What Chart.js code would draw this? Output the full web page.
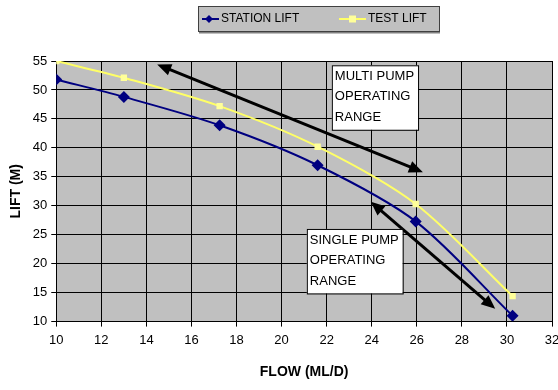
<!DOCTYPE html>
<html>
<head>
<meta charset="utf-8">
<script src="https://cdn.jsdelivr.net/npm/chart.js@4.4.1/dist/chart.umd.min.js"></script>
<style>
  html, body { margin: 0; padding: 0; background: #fff; }
</style>
</head>
<body>
<canvas id="pump_chart" width="558" height="390"></canvas>
<script>
// pump curves: flow (ML/D) vs lift (m)
const FLOW         = [10, 13, 17.25, 21.6, 25.95, 30.25];
const STATION_LIFT = [51.8, 48.8, 43.9, 37, 27.3, 11];
const TEST_LIFT    = [55, 52.1, 47.2, 40.2, 30.3, 14.4];
const SERIES_NAMES = ["STATION LIFT", "TEST LIFT"];

const X_TICKS = [10, 12, 14, 16, 18, 20, 22, 24, 26, 28, 30, 32];
const Y_TICKS = [10, 15, 20, 25, 30, 35, 40, 45, 50, 55];

// notes drawn on the plot (positions in axis units)
const NOTE_MULTI   = ["MULTI PUMP", "OPERATING", "RANGE"];
const NOTE_SINGLE  = ["SINGLE PUMP", "OPERATING", "RANGE"];
const BOX_MULTI    = [22.23, 54.26];
const BOX_SINGLE   = [21.12, 26.0];
const ARROW_MULTI  = [[14.48, 54.4], [26.27, 35.8]];
const ARROW_SINGLE = [[23.96, 30.7], [29.48, 12.2]];

const FONT = '"Liberation Sans", Arial, sans-serif';
const NAVY = "#000080";
const YELLOW = "#ffff66";

const plotBg = {
  id: "plotBg",
  beforeDraw(chart) {
    const { ctx, chartArea: a } = chart;
    ctx.save();
    ctx.fillStyle = "#c0c0c0";
    ctx.fillRect(a.left, a.top, a.right - a.left, a.bottom - a.top);
    ctx.restore();
  },
};

function drawArrow(ctx, x1, y1, x2, y2) {
  const ang = Math.atan2(y2 - y1, x2 - x1);
  const len = 14, half = 6;
  ctx.beginPath();
  ctx.moveTo(x1 + Math.cos(ang) * len * 0.8, y1 + Math.sin(ang) * len * 0.8);
  ctx.lineTo(x2 - Math.cos(ang) * len * 0.8, y2 - Math.sin(ang) * len * 0.8);
  ctx.stroke();
  [[x2, y2, ang], [x1, y1, ang + Math.PI]].forEach(([x, y, a]) => {
    ctx.beginPath();
    ctx.moveTo(x, y);
    ctx.lineTo(x - Math.cos(a) * len - Math.sin(a) * half, y - Math.sin(a) * len + Math.cos(a) * half);
    ctx.lineTo(x - Math.cos(a) * len + Math.sin(a) * half, y - Math.sin(a) * len - Math.cos(a) * half);
    ctx.closePath();
    ctx.fill();
  });
}

function drawNote(ctx, x, y, lines) {
  ctx.font = "13px " + FONT;
  const w = Math.max(...lines.map((l) => ctx.measureText(l).width)) + 7;
  const lh = 20.5;
  const h = lines.length * lh + 3;
  ctx.fillStyle = "#fff";
  ctx.fillRect(x, y, w, h);
  ctx.strokeStyle = "#000";
  ctx.lineWidth = 1;
  ctx.strokeRect(x + 0.5, y + 0.5, w, h);
  ctx.fillStyle = "#000";
  ctx.textBaseline = "middle";
  ctx.textAlign = "left";
  lines.forEach((l, i) => ctx.fillText(l, x + 3, y + 11 + i * lh));
}

const overlays = {
  id: "overlays",
  afterDraw(chart) {
    const { ctx, scales: { x, y } } = chart;
    const px = (p) => [x.getPixelForValue(p[0]), y.getPixelForValue(p[1])];
    ctx.save();

    // arrows
    ctx.strokeStyle = "#000";
    ctx.fillStyle = "#000";
    ctx.lineWidth = 3;
    [ARROW_MULTI, ARROW_SINGLE].forEach(([a, b]) => {
      const [x1, y1] = px(a), [x2, y2] = px(b);
      drawArrow(ctx, x1, y1, x2, y2);
    });

    // text boxes
    drawNote(ctx, ...px(BOX_MULTI), NOTE_MULTI);
    drawNote(ctx, ...px(BOX_SINGLE), NOTE_SINGLE);

    // legend box
    const lx = 198, ly = 6, lw = 241, lh = 25;
    ctx.fillStyle = "#c0c0c0";
    ctx.fillRect(lx, ly, lw, lh);
    ctx.strokeStyle = "#404040";
    ctx.lineWidth = 1;
    ctx.strokeRect(lx + 0.5, ly + 0.5, lw, lh);
    ctx.fillStyle = "#808080";
    ctx.fillRect(lx + 1, ly + lh + 1, lw, 1.5);

    const cy = ly + lh / 2 + 0.5;
    ctx.font = "12px " + FONT;
    ctx.textBaseline = "middle";
    ctx.textAlign = "left";
    // station
    ctx.strokeStyle = NAVY; ctx.lineWidth = 2;
    ctx.beginPath(); ctx.moveTo(202, cy); ctx.lineTo(219, cy); ctx.stroke();
    ctx.fillStyle = NAVY;
    ctx.beginPath(); ctx.moveTo(209, cy - 4); ctx.lineTo(213, cy); ctx.lineTo(209, cy + 4); ctx.lineTo(205, cy); ctx.closePath(); ctx.fill();
    ctx.fillStyle = "#000";
    ctx.fillText(SERIES_NAMES[0], 221, cy);
    // test
    ctx.strokeStyle = YELLOW;
    ctx.beginPath(); ctx.moveTo(339, cy); ctx.lineTo(366, cy); ctx.stroke();
    ctx.fillStyle = "#ffff99";
    ctx.fillRect(349, cy - 3.5, 7, 7);
    ctx.fillStyle = "#000";
    ctx.fillText(SERIES_NAMES[1], 368, cy);

    ctx.restore();
  },
};

new Chart(document.getElementById("pump_chart"), {
  type: "line",
  data: {
    datasets: [
      {
        label: SERIES_NAMES[0],
        data: FLOW.map((f, i) => ({ x: f, y: STATION_LIFT[i] })),
        borderColor: NAVY,
        backgroundColor: NAVY,
        borderWidth: 2,
        pointStyle: "rectRot",
        pointRadius: 6,
        pointBorderWidth: 0,
        tension: 0.3,
      },
      {
        label: SERIES_NAMES[1],
        data: FLOW.map((f, i) => ({ x: f, y: TEST_LIFT[i] })),
        borderColor: YELLOW,
        backgroundColor: "#ffff99",
        borderWidth: 2,
        pointStyle: "rect",
        pointRadius: 4.5,
        pointBorderWidth: 0,
        tension: 0.3,
      },
    ],
  },
  options: {
    responsive: false,
    devicePixelRatio: 1,
    animation: false,
    layout: { padding: { top: 61, left: 8, right: 6, bottom: 9 } },
    plugins: { legend: { display: false }, tooltip: { enabled: false } },
    scales: {
      x: {
        type: "linear",
        min: 10, max: 32,
        afterBuildTicks: (s) => { s.ticks = X_TICKS.map((v) => ({ value: v })); },
        afterFit: (s) => { s.paddingRight = 0; },
        grid: { color: "#000", lineWidth: 1, tickLength: 5 },
        border: { color: "#000", width: 1 },
        ticks: { color: "#000", font: { family: FONT, size: 13 }, padding: 6, maxRotation: 0 },
        title: { display: true, text: "FLOW (ML/D)", color: "#000", font: { family: FONT, size: 14, weight: "bold" }, padding: { top: 10, bottom: 0 } },
      },
      y: {
        min: 10, max: 55,
        afterBuildTicks: (s) => { s.ticks = Y_TICKS.map((v) => ({ value: v })); },
        grid: { color: "#000", lineWidth: 1, tickLength: 5 },
        border: { color: "#000", width: 1 },
        ticks: { color: "#000", font: { family: FONT, size: 13 }, padding: 4 },
        title: { display: true, text: "LIFT (M)", color: "#000", font: { family: FONT, size: 14, weight: "bold" }, padding: { top: 0, bottom: 4 } },
      },
    },
  },
  plugins: [plotBg, overlays],
});
</script>
</body>
</html>
